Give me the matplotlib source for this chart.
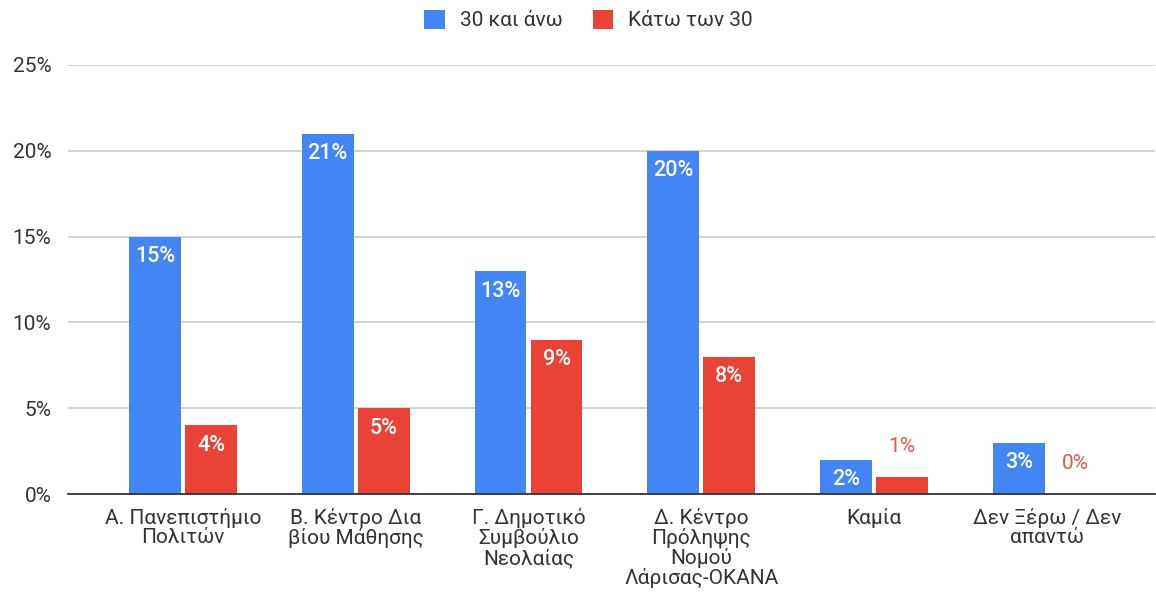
import matplotlib
matplotlib.use("Agg")
import matplotlib.pyplot as plt
import numpy as np

plt.rcParams['font.family'] = ['Roboto', 'DejaVu Sans']

# Data
categories = ["Α. Πανεπιστήμιο\nΠολιτών", "Β. Κέντρο Δια\nβίου Μάθησης",
              "Γ. Δημοτικό\nΣυμβούλιο\nΝεολαίας", "Δ. Κέντρο\nΠρόληψης\nΝομού\nΛάρισας-ΟΚΑΝΑ",
              "Καμία", "Δεν Ξέρω / Δεν\nαπαντώ"]
over_30 = [0.15, 0.21, 0.13, 0.20, 0.02, 0.03]
under_30 = [0.04, 0.05, 0.09, 0.08, 0.01, 0.00]
series_names = ["30 και άνω", "Κάτω των 30"]
yticks = [0, 0.05, 0.10, 0.15, 0.20, 0.25]

BLUE = '#4285F4'
RED = '#EA4335'

fig = plt.figure(figsize=(11.56, 5.92), dpi=100)
ax = fig.add_axes([68/1156, 1-494/592, (1155-68)/1156, (494-65)/592])

x = np.arange(len(categories))
w = 0.30
off = 0.162
b1 = ax.bar(x - off, over_30, w, color=BLUE, label=series_names[0], zorder=3)
b2 = ax.bar(x + off, under_30, w, color=RED, label=series_names[1], zorder=3)

# value labels: inside the bar when there is room, else above in series colour
for bars, vals, col in [(b1, over_30, BLUE), (b2, under_30, RED)]:
    for rect, v in zip(bars, vals):
        xc = rect.get_x() + rect.get_width()/2
        txt = f"{round(v*100):.0f}%"
        if v >= 0.02:
            ax.annotate(txt, (xc, v), xytext=(0, -14.5), textcoords='offset points',
                        ha='center', va='center', color='white', fontsize=15.5,
                        fontweight='medium', zorder=4)
        else:
            ax.annotate(txt, (xc, v), xytext=(0, 22), textcoords='offset points',
                        ha='center', va='center', color='#E0584C', fontsize=15,
                        zorder=4)

ax.set_xlim(-0.665, 5 + 108/172.8)
ax.set_ylim(0, 0.25)
ax.set_yticks(yticks)
ax.set_yticklabels([f"{int(t*100)}%" for t in yticks])
ax.set_xticks(x)
ax.set_xticklabels(categories, linespacing=1.0)
ax.tick_params(axis='both', length=0, labelsize=15, colors='#333333')
ax.tick_params(axis='x', pad=10)
ax.tick_params(axis='y', pad=12)
ax.grid(axis='y', color='#cccccc', linewidth=1.2, zorder=0)
for s in ['top', 'right', 'left']:
    ax.spines[s].set_visible(False)
ax.spines['bottom'].set_color('#333333')
ax.spines['bottom'].set_linewidth(1.3)
ax.spines['bottom'].set_zorder(5)

fig.legend(loc='upper center', bbox_to_anchor=(0.509, 1.015), ncol=2, frameon=False,
           fontsize=15, handlelength=1.0, handleheight=1.0, columnspacing=1.45,
           handletextpad=0.7, labelcolor='#333333')

fig.savefig('out.png', dpi=100, facecolor='white')
